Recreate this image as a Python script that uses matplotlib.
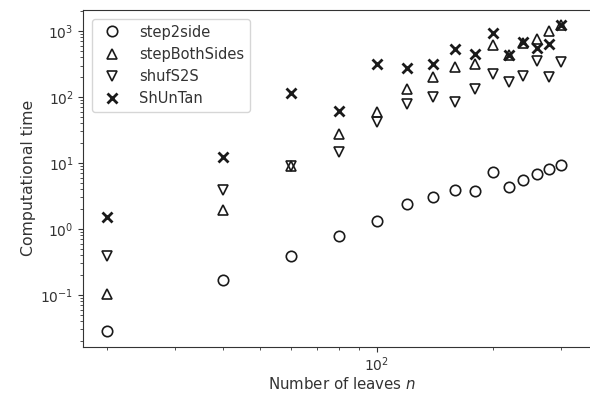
import numpy as np
import matplotlib
matplotlib.use("Agg")
from matplotlib import pyplot as plt

n_leaves = [20, 40, 60, 80, 100, 120, 140, 160, 180, 200, 220, 240, 260, 280, 300]

step2side = [0.028, 0.167, 0.385, 0.77, 1.3, 2.38, 3.0, 3.83, 3.8, 7.2,
             4.25, 5.5, 6.7, 8.15, 9.45]
step_both_sides = [0.102, 1.96, 9.0, 27.5, 59.0, 130, 202, 280, 311, 624,
                   430, 668, 768, 1000, 1220]
shuf_s2s = [0.395, 3.92, 9.0, 14.9, 42.0, 78, 100, 85, 130, 222,
            166, 207, 349, 198, 340]
shuntan = [1.52, 12.2, 113, 61, 311, 276, 321, 542, 456, 946,
           440, 682, 553, 645, 1220]

grey = "#333333"
plt.rcParams.update({
    "font.family": ["DejaVu Sans"],
    "axes.edgecolor": grey,
    "axes.labelcolor": grey,
    "xtick.color": grey,
    "ytick.color": grey,
    "text.color": grey,
})

fig = plt.figure(figsize=(5.9, 3.95), dpi=100)
ax = fig.add_axes([83.3 / 590, 1 - 346.7 / 395, (600 - 83.3) / 590, (346.7 - 10) / 395])

dark = "#1a1a1a"
ax.plot(n_leaves, step2side, "o", ls="none", ms=7.5, mfc="none", mec=dark, mew=1.2, label="step2side")
ax.plot(n_leaves, step_both_sides, "^", ls="none", ms=7.5, mfc="none", mec=dark, mew=1.2, label="stepBothSides")
ax.plot(n_leaves, shuf_s2s, "v", ls="none", ms=7.5, mfc="none", mec=dark, mew=1.2, label="shufS2S")
ax.plot(n_leaves, shuntan, "x", ls="none", ms=7.5, mec=dark, mew=2.0, label="ShUnTan")

ax.set_xscale("log")
ax.set_yscale("log")
ax.set_xlim(17.4, 379)
ax.set_xlabel("Number of leaves $n$", fontsize=10.8, labelpad=2)
ax.set_ylabel("Computational time", fontsize=11.3, labelpad=3)
ax.tick_params(labelsize=10)
ax.tick_params(axis="x", pad=2.5)
ax.legend(loc="upper left", fontsize=10.5, frameon=True, borderaxespad=0.6)

fig.savefig("out.png", dpi=100)
